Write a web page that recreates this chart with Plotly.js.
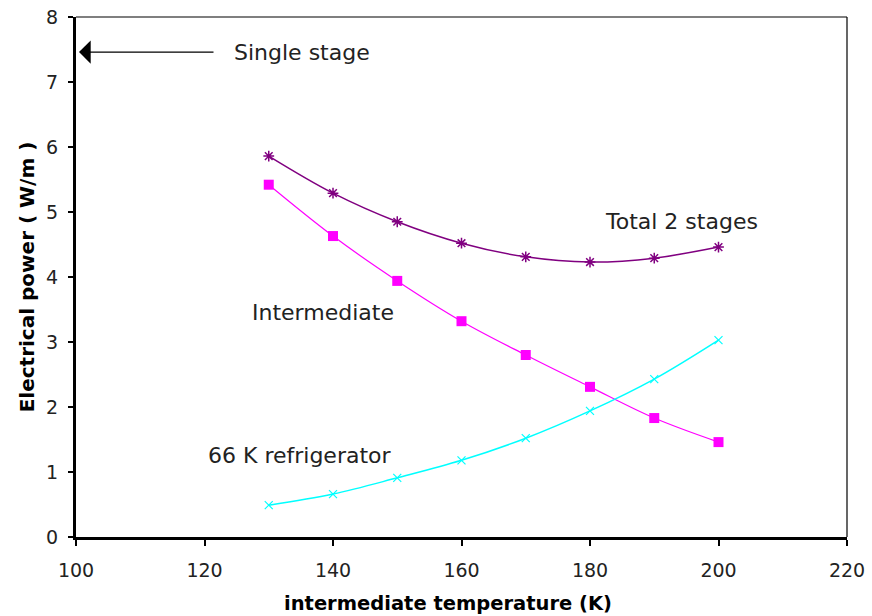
<!DOCTYPE html>
<html><head><meta charset="utf-8">
<script src="https://cdn.plot.ly/plotly-3.0.1.min.js"></script>
<style>body{margin:0;background:#fff}#c{width:872px;height:616px}</style>
</head><body><div id="c"></div>
<script>
const temps = [130, 140, 150, 160, 170, 180, 190, 200];
const total2Stages = [5.86, 5.29, 4.85, 4.52, 4.31, 4.23, 4.29, 4.46];
const intermediate = [5.42, 4.63, 3.94, 3.32, 2.80, 2.31, 1.83, 1.46];
const refrigerator66K = [0.49, 0.66, 0.91, 1.18, 1.52, 1.94, 2.43, 3.03];
const singleStage = 7.46;
const xTicks = [100, 120, 140, 160, 180, 200, 220];
const yTicks = [0, 1, 2, 3, 4, 5, 6, 7, 8];

const font = "DejaVu Sans, Verdana, sans-serif";
const txt = {size: 22, family: font, color: '#222'};
const traces = [
  {x: temps, y: total2Stages, mode: 'lines+markers', line: {color: '#800080', width: 1.5, shape: 'spline'},
   marker: {symbol: 'asterisk-open', size: 9, color: '#800080', line: {color: '#800080', width: 1.5}}},
  {x: temps, y: intermediate, mode: 'lines+markers', line: {color: '#FF00FF', width: 1.2, shape: 'spline'},
   marker: {symbol: 'square', size: 10, color: '#FF00FF'}},
  {x: temps, y: refrigerator66K, mode: 'lines+markers', line: {color: '#00FFFF', width: 1.5, shape: 'spline'},
   marker: {symbol: 'x-thin-open', size: 8, color: '#00FFFF', line: {color: '#00FFFF', width: 1.2}}}
];
const layout = {
  width: 872, height: 616,
  margin: {l: 76, r: 25, t: 17, b: 79},
  paper_bgcolor: '#fff', plot_bgcolor: '#fff',
  showlegend: false,
  font: {family: font, size: 17, color: '#000'},
  xaxis: {range: [100, 220], tickvals: xTicks, ticktext: xTicks.map(String), showgrid: false, zeroline: false,
    showline: true, linecolor: '#000', linewidth: 3, ticks: 'outside', ticklen: 6, tickwidth: 2,
    tickcolor: '#000', ticklabelstandoff: 8, tickfont: {size: 19, family: font, color: '#222'}},
  yaxis: {range: [0, 8], tickvals: yTicks, ticktext: yTicks.map(String), showgrid: false, zeroline: false,
    showline: true, linecolor: '#000', linewidth: 3, ticks: 'outside', ticklen: 5, tickwidth: 2,
    tickcolor: '#000', ticklabelstandoff: 6, tickfont: {size: 19, family: font, color: '#222'},
    title: {text: '<b>Electrical power ( W/m )</b>', font: {size: 20, family: font, color: '#000'}, standoff: 7}},
  shapes: [
    {type: 'line', xref: 'paper', yref: 'paper', x0: 0, x1: 1, y0: 1, y1: 1, line: {color: '#000', width: 1.2}},
    {type: 'line', xref: 'paper', yref: 'paper', x0: 1, x1: 1, y0: 0, y1: 1, line: {color: '#000', width: 1.2}}
  ],
  annotations: [
    {x: 0.4825, y: -0.127, xref: 'paper', yref: 'paper', text: '<b>intermediate temperature (K)</b>', showarrow: false,
     xanchor: 'center', yanchor: 'middle', font: {size: 19.5, family: font, color: '#000'}},
    {x: 100, y: singleStage, xref: 'x', yref: 'y', ax: 139, ay: 0, text: '',
     showarrow: true, arrowhead: 1, arrowsize: 3, arrowwidth: 1.3, arrowcolor: '#000', standoff: 3},
    {x: 124.3, y: singleStage, xref: 'x', yref: 'y', text: 'Single stage', showarrow: false, xanchor: 'left', font: txt},
    {x: 194.3, y: 4.85, xref: 'x', yref: 'y', text: 'Total 2 stages', showarrow: false, xanchor: 'center', font: txt},
    {x: 138.4, y: 3.45, xref: 'x', yref: 'y', text: 'Intermediate', showarrow: false, xanchor: 'center', font: txt},
    {x: 134.9, y: 1.26, xref: 'x', yref: 'y', text: '66 K refrigerator', showarrow: false, xanchor: 'center', font: txt}
  ]
};
Plotly.newPlot('c', traces, layout, {displayModeBar: false, staticPlot: true});
</script></body></html>
